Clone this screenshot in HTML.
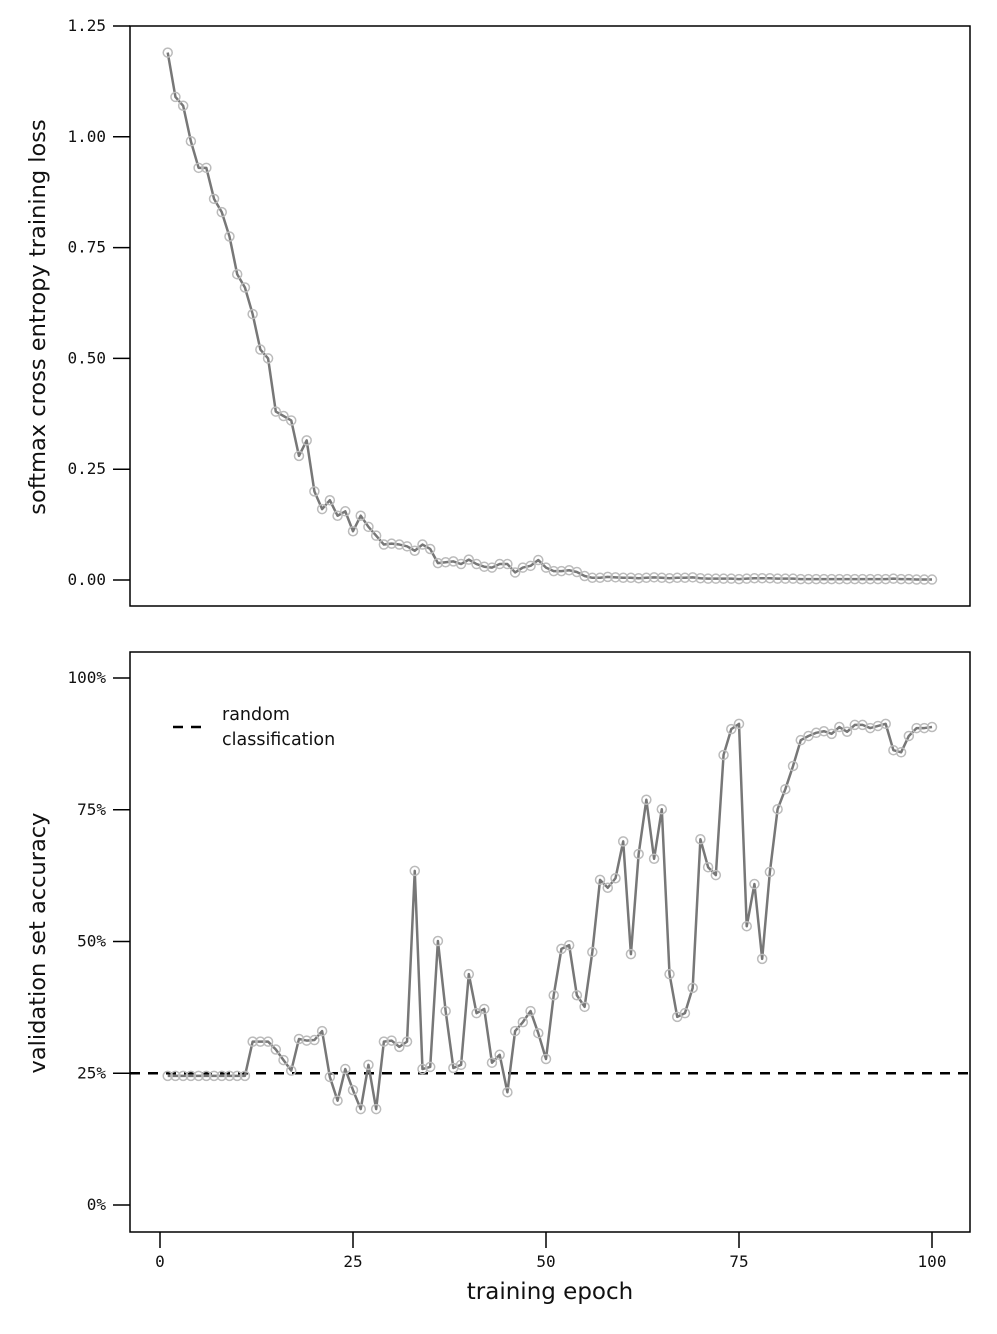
<!DOCTYPE html>
<html><head><meta charset="utf-8"><style>
body{margin:0;background:#fff;}
svg text{font-family:"DejaVu Sans","Liberation Sans",sans-serif;fill:#111;}
svg text.tk{font-family:"DejaVu Sans Mono","Liberation Mono",monospace;font-size:16px;}
</style></head><body>
<svg id="chart" width="997" height="1329" xmlns="http://www.w3.org/2000/svg"></svg>
<script>
const epochs = Array.from({length:100},(_,i)=>i+1);
const lossValues = [1.19,1.09,1.07,0.99,0.93,0.93,0.86,0.83,0.775,0.69,0.66,0.60,0.52,0.50,0.38,0.37,0.36,0.28,0.315,0.20,0.16,0.18,0.145,0.155,0.11,0.145,0.12,0.10,0.08,0.082,0.08,0.076,0.066,0.08,0.07,0.038,0.04,0.042,0.036,0.046,0.036,0.03,0.028,0.036,0.036,0.017,0.028,0.032,0.045,0.028,0.02,0.02,0.022,0.018,0.009,0.005,0.005,0.007,0.006,0.005,0.005,0.004,0.005,0.006,0.005,0.004,0.005,0.005,0.006,0.004,0.003,0.003,0.003,0.003,0.002,0.003,0.004,0.004,0.004,0.003,0.003,0.003,0.002,0.002,0.002,0.002,0.002,0.002,0.002,0.002,0.002,0.002,0.002,0.002,0.003,0.002,0.002,0.001,0.001,0.001];
const accValues = [24.5,24.5,24.5,24.5,24.5,24.5,24.5,24.5,24.5,24.5,24.5,31,31,31,29.5,27.5,25.5,31.5,31.2,31.3,33,24.3,19.8,25.8,21.8,18.2,26.6,18.2,31,31.2,30,31,63.4,25.8,26.2,50.1,36.8,26,26.6,43.8,36.4,37.2,27,28.5,21.4,33,34.7,36.8,32.6,27.7,39.8,48.6,49.3,39.8,37.6,48,61.7,60.2,62,69,47.6,66.6,76.9,65.7,75.1,43.8,35.7,36.4,41.2,69.4,64.1,62.6,85.4,90.3,91.3,52.9,60.9,46.7,63.2,75.1,78.9,83.3,88.2,89,89.6,89.9,89.4,90.7,89.8,91.1,91.1,90.5,90.9,91.3,86.3,85.9,89,90.5,90.5,90.7];
const lossTicks = [0,0.25,0.5,0.75,1.0,1.25];
const accTicks = [0,25,50,75,100];
const epochTicks = [0,25,50,75,100];
const randomBaseline = 25;

const NS="http://www.w3.org/2000/svg";
const svg=document.getElementById('chart');
function el(t,a,p){const e=document.createElementNS(NS,t);for(const k in a)e.setAttribute(k,a[k]);(p||svg).appendChild(e);return e;}
const xS=v=>160+v*7.72;
const yLoss=v=>580-v*443.2;
const yAcc=v=>1205-v*5.27;

function panel(top,bottom,name){
  const r=el('rect',{x:130,y:top,width:840,height:bottom-top,fill:'none',stroke:'#000','stroke-width':1.5});
  
  
}
panel(26,606,'loss-plot-frame');
panel(652,1232,'accuracy-plot-frame');

lossTicks.forEach(v=>{
  const y=yLoss(v);
  const l=el('line',{x1:113,x2:130,y1:y,y2:y,stroke:'#000','stroke-width':1.5});
  
  
  const t=el('text',{x:106,y:y+5,'text-anchor':'end',class:'tk'});t.textContent=v.toFixed(2);
  
  
});
accTicks.forEach(v=>{
  const y=yAcc(v);
  const l=el('line',{x1:113,x2:130,y1:y,y2:y,stroke:'#000','stroke-width':1.5});
  
  
  const t=el('text',{x:106,y:y+5,'text-anchor':'end',class:'tk','font-size':'17'});t.textContent=v+'%';
  
  
});
epochTicks.forEach(v=>{
  const x=xS(v);
  const l=el('line',{x1:x,x2:x,y1:1232,y2:1248,stroke:'#000','stroke-width':1.5});
  
  
  const t=el('text',{x:x,y:1267,'text-anchor':'middle',class:'tk'});t.textContent=v;
  
  
});

const bl=el('line',{x1:130,x2:970,y1:yAcc(randomBaseline),y2:yAcc(randomBaseline),stroke:'#000','stroke-width':2.5,'stroke-dasharray':'10,8'});



function series(vals,yf,name){
  const pts=vals.map((v,i)=>xS(epochs[i])+','+yf(v)).join(' ');
  const p=el('polyline',{points:pts,fill:'none',stroke:'#777','stroke-width':2.5,'stroke-linejoin':'round'});
  
  
  vals.forEach((v,i)=>{
    const c=el('circle',{cx:xS(epochs[i]),cy:yf(v),r:4.5,fill:'none',stroke:'#bbb','stroke-width':1.5});
    
    
  });
}
series(lossValues,yLoss,'loss');
series(accValues,yAcc,'accuracy');

const lg=el('line',{x1:173,x2:205,y1:727,y2:727,stroke:'#000','stroke-width':2.5,'stroke-dasharray':'10,8'});


[['random',720],['classification',745]].forEach(([s,y])=>{
  const t=el('text',{x:222,y:y,'font-size':'17.5'});t.textContent=s;
  
  
});

const t1=el('text',{x:0,y:0,'font-size':'22.5','text-anchor':'middle',transform:'translate(45,317) rotate(-90)'});t1.textContent='softmax cross entropy training loss';


const t2=el('text',{x:0,y:0,'font-size':'22.5','text-anchor':'middle',transform:'translate(45,943) rotate(-90)'});t2.textContent='validation set accuracy';


const t3=el('text',{x:550,y:1299,'font-size':'23','text-anchor':'middle'});t3.textContent='training epoch';


</script>
</body></html>
